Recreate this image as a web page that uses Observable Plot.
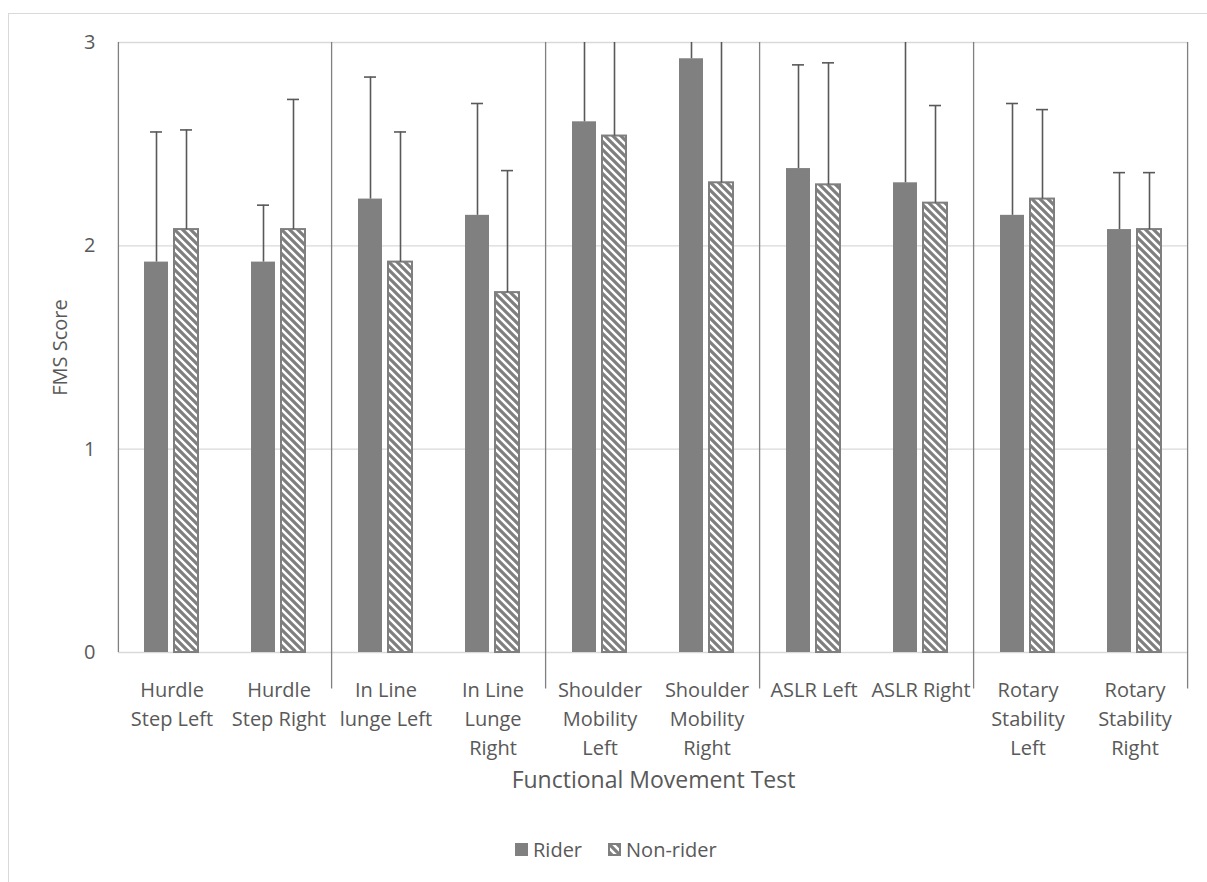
<!DOCTYPE html>
<html>
<head>
<meta charset="utf-8">
<script src="https://cdn.jsdelivr.net/npm/d3@7"></script>
<script src="https://cdn.jsdelivr.net/npm/@observablehq/plot@0.6"></script>
<style>
  html, body { margin: 0; padding: 0; background: #fff; }
  body { width: 1207px; height: 882px; position: relative; overflow: hidden; font-family: "Open Sans", sans-serif; }
  #border { position: absolute; left: 8px; top: 13px; width: 1400px; height: 1000px; border-left: 1px solid #d9d9d9; border-top: 1px solid #d9d9d9; }
  #chart { position: absolute; left: 0; top: 0; }
  #chart g[aria-label="fx-axis label"] text { font-size: 23px; }
  #legend { position: absolute; left: 515px; top: 836px; display: flex; align-items: center; font-size: 20px; color: #595959; white-space: nowrap; }
  #legend .item { display: flex; align-items: center; }
  #legend .item + .item { margin-left: 26px; }
  #legend svg { margin-right: 5px; }
</style>
</head>
<body>
<div id="border"></div>
<div id="chart"></div>
<div id="legend"></div>
<script>
// ---- data ----
const categories = [
  "Hurdle Step Left", "Hurdle Step Right", "In Line lunge Left", "In Line Lunge Right",
  "Shoulder Mobility Left", "Shoulder Mobility Right", "ASLR Left", "ASLR Right",
  "Rotary Stability Left", "Rotary Stability Right"
];
const tickLabels = [
  "Hurdle\nStep Left", "Hurdle\nStep Right", "In Line\nlunge Left", "In Line\nLunge\nRight",
  "Shoulder\nMobility\nLeft", "Shoulder\nMobility\nRight", "ASLR Left", "ASLR Right",
  "Rotary\nStability\nLeft", "Rotary\nStability\nRight"
];
const series = ["Rider", "Non-rider"];
const riderMean    = [1.92, 1.92, 2.23, 2.15, 2.61, 2.92, 2.38, 2.31, 2.15, 2.08];
const riderSD      = [0.64, 0.28, 0.60, 0.55, 0.65, 0.28, 0.51, 0.75, 0.55, 0.28];
const nonRiderMean = [2.08, 2.08, 1.92, 1.77, 2.54, 2.31, 2.30, 2.21, 2.23, 2.08];
const nonRiderSD   = [0.49, 0.64, 0.64, 0.60, 0.78, 0.85, 0.60, 0.48, 0.44, 0.28];
const yTicks = [0, 1, 2, 3];
const groupStart = ["Hurdle Step Left"];
const groupEnds = ["Hurdle Step Right", "In Line Lunge Right", "Shoulder Mobility Right", "ASLR Right", "Rotary Stability Right"];
const axisTitleX = "Functional Movement Test";
const axisTitleY = "FMS Score";

// ---- table ----
const table = categories.flatMap((c, i) => [
  {cat: c, series: "Rider", mean: riderMean[i], sd: riderSD[i]},
  {cat: c, series: "Non-rider", mean: nonRiderMean[i], sd: nonRiderSD[i]}
]);

const GRAY = "#808080", DARK = "#595959";

const chart = Plot.plot({
  width: 1207,
  height: 800,
  marginTop: 42,
  marginLeft: 117,
  marginRight: 18,
  marginBottom: 148,
  style: {fontFamily: "'Open Sans', sans-serif", fontSize: "20px", color: DARK, background: "transparent", overflow: "visible"},
  fx: {domain: categories, padding: 0, label: null},
  x: {domain: series, paddingInner: 0.194, paddingOuter: 0.826, axis: null},
  y: {domain: [0, 3], axis: null},
  marks: [
    Plot.gridY(yTicks, {stroke: "#d9d9d9", strokeOpacity: 1, strokeWidth: 1.3}),
    Plot.axisY(yTicks, {tickSize: 0, tickPadding: 23, label: null, tickFormat: d => String(d)}),
    Plot.text([axisTitleY], {fx: () => categories[0], frameAnchor: "left", textAnchor: "middle", rotate: -90, dx: -58, fontSize: 20, fill: DARK}),
    Plot.axisFx({anchor: "bottom", tickSize: 0, tickPadding: 24, lineHeight: 1.45,
      tickFormat: c => tickLabels[categories.indexOf(c)],
      label: axisTitleX, labelAnchor: "center", labelOffset: 135}),
    Plot.barY(table.filter(d => d.series === "Rider"), {fx: "cat", x: "series", y: "mean", fill: GRAY}),
    Plot.barY(table.filter(d => d.series === "Non-rider"), {fx: "cat", x: "series", y: "mean", fill: "url(#nr-hatch)", stroke: "#7f7f7f", strokeWidth: 2}),
    Plot.ruleX(table, {fx: "cat", x: "series", y1: "mean", y2: d => d.mean + d.sd, stroke: DARK, strokeWidth: 1.6, clip: true}),
    Plot.tickY(table, {fx: "cat", x: "series", y: d => d.mean + d.sd, stroke: DARK, strokeWidth: 1.6, insetLeft: 6, insetRight: 6, clip: true}),
    Plot.ruleX(groupStart, {fx: d => d, x: () => "Rider", dx: -38.1, y1: 3, y2: 0, stroke: GRAY, strokeWidth: 1.3}),
    Plot.ruleX(groupEnds, {fx: d => d, x: () => "Non-rider", dx: 38.1, y1: 3, y2: -0.18, stroke: GRAY, strokeWidth: 1.3})
  ]
});

function addPattern(svgEl, id) {
  const defs = d3.select(svgEl).insert("defs", ":first-child");
  const p = defs.append("pattern").attr("id", id).attr("patternUnits", "userSpaceOnUse")
    .attr("width", 8).attr("height", 8);
  p.append("rect").attr("width", 8).attr("height", 8).attr("fill", "#fff");
  p.append("path").attr("d", "M-4,4 L4,12 M0,0 L8,8 M4,-4 L12,4")
    .attr("stroke", "#7f7f7f").attr("stroke-width", 3.2).attr("fill", "none");
}
addPattern(chart, "nr-hatch");
document.getElementById("chart").appendChild(chart);

// ---- legend ----
const legend = d3.select("#legend");
series.forEach((s, i) => {
  const item = legend.append("div").attr("class", "item");
  const sw = item.append("svg").attr("width", 13).attr("height", 13);
  if (i === 0) {
    sw.append("rect").attr("width", 13).attr("height", 13).attr("fill", GRAY);
  } else {
    addPattern(sw.node(), "nr-hatch-legend");
    sw.append("rect").attr("x", 1).attr("y", 1).attr("width", 11).attr("height", 11)
      .attr("fill", "url(#nr-hatch-legend)").attr("stroke", "#7f7f7f").attr("stroke-width", 2);
  }
  item.append("span").text(s);
});
</script>
</body>
</html>
